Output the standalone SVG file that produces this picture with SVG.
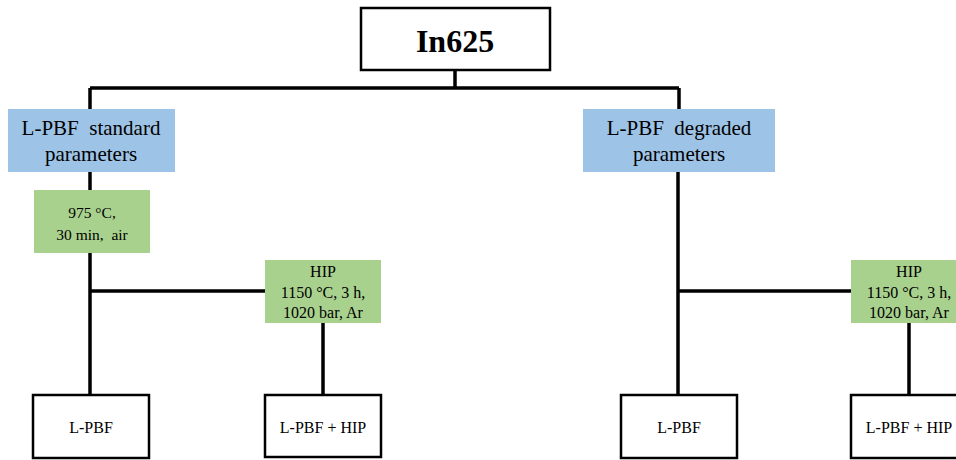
<svg xmlns="http://www.w3.org/2000/svg" width="956" height="460" viewBox="0 0 956 460">
<style>
text{font-family:"Liberation Serif","Times New Roman",serif;fill:#000;text-anchor:middle;white-space:pre}
.blue{fill:#9DC3E6}
.green{fill:#A9D18E}
.box{fill:#fff;stroke:#000;stroke-width:2.5}
.t21{font-size:21px}
.t16{font-size:16px}
.t15{font-size:15.5px}
.ln{stroke:#000;stroke-width:3.5;fill:none}
</style>
<rect width="956" height="460" fill="#fff"/>
<g id="connectors">
<path class="ln" d="M455 70V88M90 88H679M90 88V110M679 88V110"/>
<path class="ln" d="M90 172V190M90 253V395M90 291H265M323 323V395"/>
<path class="ln" d="M678 172V395M678 291H851M909 323V395"/>
</g>
<g id="root"><rect class="box" x="361" y="8" width="189" height="62"/><text x="455" y="52" style="font-size:32px;font-weight:bold">In625</text></g>
<g id="std"><rect class="blue" x="8" y="109" width="167" height="63"/><text class="t21" x="91" y="135">L-PBF  standard</text><text class="t21" x="91" y="161">parameters</text></g>
<g id="deg"><rect class="blue" x="583" y="109" width="192" height="63"/><text class="t21" x="679" y="135">L-PBF  degraded</text><text class="t21" x="679" y="161">parameters</text></g>
<g id="ht1"><rect class="green" x="34" y="190" width="116" height="63"/><text class="t15" x="92" y="218">975 °C,</text><text class="t15" x="92" y="240">30 min,  air</text></g>
<g id="hip1"><rect class="green" x="265" y="260" width="116" height="63"/><text class="t16" x="323" y="277">HIP</text><text class="t16" x="323" y="298">1150 °C, 3 h,</text><text class="t16" x="323" y="318">1020 bar, Ar</text></g>
<g id="hip2"><rect class="green" x="851" y="260" width="116" height="63"/><text class="t16" x="909" y="277">HIP</text><text class="t16" x="909" y="298">1150 °C, 3 h,</text><text class="t16" x="909" y="318">1020 bar, Ar</text></g>
<g id="out1"><rect class="box" x="33" y="395" width="116" height="63"/><text class="t16" x="91" y="433">L-PBF</text></g>
<g id="out2"><rect class="box" x="265" y="395" width="116" height="62"/><text class="t16" x="323" y="433">L-PBF + HIP</text></g>
<g id="out3"><rect class="box" x="621" y="395" width="116" height="63"/><text class="t16" x="679" y="433">L-PBF</text></g>
<g id="out4"><rect class="box" x="851" y="395" width="116" height="63"/><text class="t16" x="909" y="433">L-PBF + HIP</text></g>
</svg>
